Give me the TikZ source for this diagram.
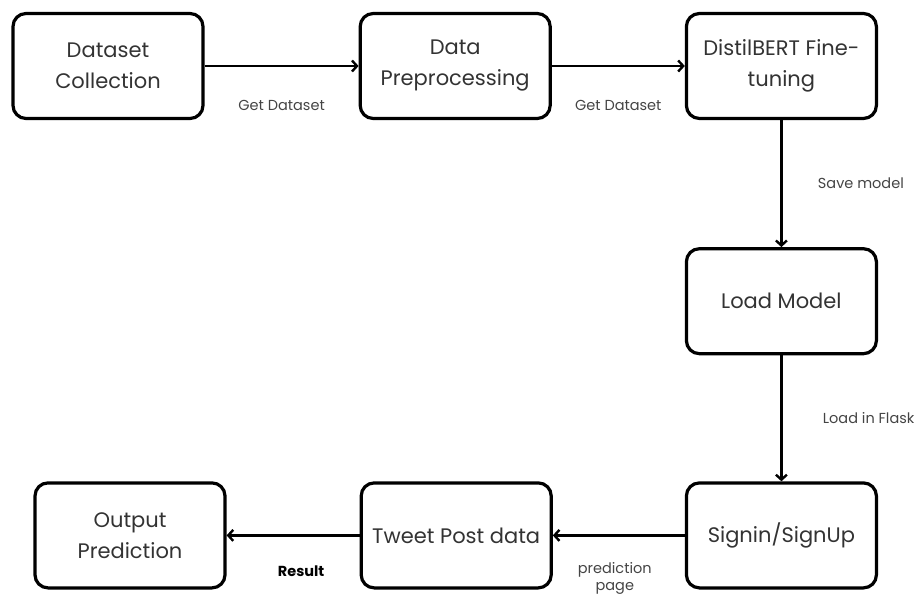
\documentclass[tikz,border=0pt]{standalone}
\usepackage{fontspec}
\setmainfont{Poppins}
\usetikzlibrary{positioning, arrows, arrows.meta}
\definecolor{txtgray}{HTML}{333333}
\definecolor{lblgray}{HTML}{444444}
\tikzset{
->, % directed edges
>={Straight Barb[length=5pt, width=11pt]}, % open arrow heads as in the sketch
node distance=130pt, % gap between two boxes
every edge/.style={draw, line width=2.4pt},
stage/.style={draw, line width=3.2pt, rounded corners=13pt, minimum width=190pt, minimum height=105pt, align=center, text=txtgray, font=\fontsize{21}{31}\selectfont}, % the boxes of the pipeline
lbl/.style={text=lblgray, font=\fontsize{14.5}{18}\selectfont, align=center}, % the edge labels
}

\begin{document}
\begin{tikzpicture}[x=1pt, y=-1pt]
    \useasboundingbox (0,0) rectangle (920,601);
    \node[stage] (dc) at (108,66) {Dataset\\Collection};
    \node[stage, right=154pt of dc] (dp) {Data\\Preprocessing};
    \node[stage, right=133pt of dp] (ft) {DistilBERT Fine-\\tuning};
    \node[stage, below=127pt of ft] (lm) {Load Model};
    \node[stage, below=126pt of lm] (su) {Signin/SignUp};
    \node[stage, left=132pt of su] (tp) {Tweet Post data};
    \node[stage, left=133pt of tp] (op) {Output\\Prediction};
    \draw 
    (dc) edge node[lbl, below=30pt] {Get Dataset} (dp)
    (dp) edge node[lbl, below=30pt] {Get Dataset} (ft)
    (ft) edge node[lbl, right=32pt] {Save model} (lm)
    (lm) edge node[lbl, right=37pt] {Load in Flask} (su)
    (su) edge node[lbl, below=25pt, xshift=-4pt, inner sep=1pt, font=\fontsize{14.5}{17}\selectfont] {prediction\\page} (tp)
    (tp) edge node[lbl, below=26pt, xshift=8pt, font=\fontsize{14.5}{18}\selectfont\bfseries, text=black] {Result} (op);
  \end{tikzpicture}
\end{document}
